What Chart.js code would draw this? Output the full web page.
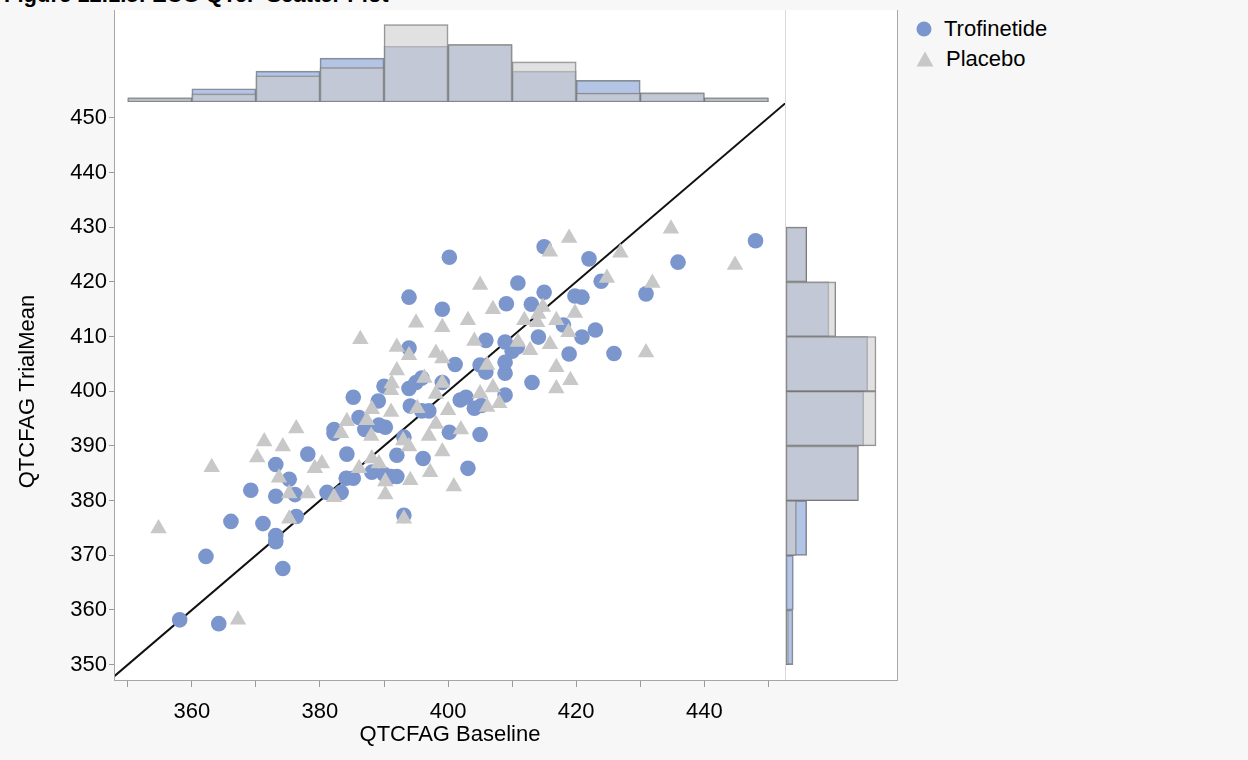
<!DOCTYPE html>
<html>
<head>
<meta charset="utf-8">
<script src="https://cdn.jsdelivr.net/npm/chart.js@4.4.1/dist/chart.umd.min.js"></script>
<style>
  html, body { margin: 0; padding: 0; background: #f7f7f7; }
  body { width: 1248px; height: 760px; position: relative; overflow: hidden;
         font-family: "Liberation Sans", Arial, sans-serif; color: #000; }
  .abs { position: absolute; }
  #frame { left: 115px; top: 10px; width: 782px; height: 670px; background: #fff; }
  #title { left: 4px; top: -18px; font-size: 22px; font-weight: bold; white-space: nowrap; line-height: 26px; }
  .edge { background: #a6a6a6; }
  .sep { background: #d9d9d9; }
  #legend { left: 916px; top: 14px; font-size: 22px; line-height: 30px; }
  #legend div { display: flex; align-items: center; height: 30px; }
  #legend svg { margin-right: 12px; }
</style>
</head>
<body>
<div id="title" class="abs">Figure 12.1.5: ECG QTcF Scatter Plot</div>
<div id="frame" class="abs"></div>
<canvas id="scatter" class="abs" width="800" height="760" style="left:0;top:0"></canvas>
<canvas id="histTop" class="abs" width="670" height="92" style="left:115px;top:10px"></canvas>
<canvas id="histRight" class="abs" width="111" height="577" style="left:786px;top:103px"></canvas>
<div class="abs edge" style="left:114px;top:10px;width:1px;height:671px"></div>
<div class="abs edge" style="left:114px;top:680px;width:784px;height:1px"></div>
<div class="abs edge" style="left:897px;top:10px;width:1px;height:671px"></div>
<div class="abs sep" style="left:785px;top:10px;width:1px;height:670px"></div>
<div id="legend" class="abs">
  <div><svg width="16" height="16"><circle cx="8" cy="8" r="7.5" fill="rgb(123,149,205)"/></svg>Trofinetide</div>
  <div><svg width="18" height="16"><polygon points="9,0.5 17.5,15.5 0.5,15.5" fill="rgb(200,200,200)"/></svg>Placebo</div>
</div>
<script>
// QTcF per subject: baseline (x) against mean on-treatment value (y)
const trofinetideBaseline = [358.1,362.2,364.2,366.1,369.2,371.1,373.1,373.1,373.1,373.1,374.2,375.2,376.1,376.3,378.1,381.1,382.2,382.2,383.3,384.1,384.2,385.2,385.2,386.1,387.0,388.1,389.1,389.2,390.0,390.2,390.0,391.1,392.0,392.0,393.1,393.1,393.9,393.9,393.9,394.1,395.0,395.9,395.9,396.1,397.0,399.1,399.1,400.2,400.2,401.1,401.9,402.8,403.1,404.1,405.0,405.0,405.2,405.9,405.9,408.9,408.9,408.9,410.0,410.8,410.9,413.0,413.1,414.1,415.0,415.0,418.0,418.9,419.8,420.9,420.9,422.0,423.0,423.9,425.9,430.9,435.9,448.0,409.1,408.9];
const trofinetideTrialMean = [358.2,369.8,357.5,376.2,381.9,375.8,386.6,380.8,373.6,372.5,367.6,383.9,381.1,377.1,388.5,381.5,393.0,392.3,381.5,384.1,388.5,398.9,384.1,395.2,393.0,385.2,398.2,393.8,400.9,393.4,384.8,384.4,384.4,388.3,377.3,391.6,417.2,407.9,400.5,397.3,401.6,396.4,402.4,387.7,396.4,415.0,401.6,424.5,392.5,404.9,398.4,398.9,385.9,396.9,392.1,404.8,397.4,409.3,403.5,409.0,403.3,399.3,407.3,408.1,419.8,415.9,401.6,409.9,426.4,418.1,412.1,406.8,417.4,417.2,409.9,424.2,411.2,420.1,406.9,417.8,423.6,427.5,416.0,405.3];
const placeboBaseline = [354.8,363.1,367.2,370.2,371.3,374.2,373.6,375.2,375.2,376.3,378.1,379.2,380.3,382.2,383.3,384.2,386.3,386.1,388.1,388.0,389.2,390.2,390.2,391.1,391.1,392.0,392.0,393.1,393.9,393.9,394.1,395.0,395.2,396.3,397.0,398.1,398.1,399.1,399.1,399.1,400.0,400.9,402.0,403.1,404.1,405.0,405.0,406.1,406.1,407.0,407.0,408.0,411.9,412.8,413.9,414.8,415.9,415.9,416.9,416.9,416.9,418.9,419.1,419.8,424.8,426.9,430.9,431.9,434.8,444.8,398.1,387.3,393.0,391.2,399.1,414.1,418.8,410.9,388.1,397.2];
const placeboTrialMean = [374.9,386.1,358.2,387.9,390.8,389.9,384.2,381.3,376.7,393.2,381.3,385.9,386.8,380.6,392.3,394.5,409.5,385.9,396.7,391.8,386.8,381.1,383.5,400.2,396.2,408.1,403.8,376.7,406.6,389.9,383.7,412.5,396.9,402.4,391.8,399.5,394.0,411.7,406.0,389.0,396.5,382.6,393.0,413.0,409.2,419.4,399.6,397.1,404.8,415.0,400.7,397.8,413.0,407.5,412.6,415.4,425.5,408.6,404.4,400.5,413.0,428.0,402.0,414.3,420.7,425.3,407.1,419.8,429.7,423.1,407.0,394.7,391.0,401.4,401.5,414.1,410.8,409.0,387.7,385.2];

// Reference line of no change (y = x)
const identityLine = [340, 460];

// Marginal distributions, percent of each arm per 10 ms bin
const baselineBinCenters = [355, 365, 375, 385, 395, 405, 415, 425, 435, 445];
const baselinePctTrofinetide = [1.5, 4.9, 11.4, 16.2, 20.6, 21.2, 11.4, 8.0, 3.4, 1.5];
const baselinePctPlacebo = [1.5, 3.0, 9.7, 12.7, 28.6, 21.2, 14.8, 3.3, 3.4, 1.5];
const trialBinCenters = [355, 365, 375, 385, 395, 405, 415, 425];
const trialPctTrofinetide = [2.1, 2.2, 6.2, 21.7, 23.3, 24.5, 12.9, 6.2];
const trialPctPlacebo = [0.7, 0.0, 3.1, 21.7, 27.0, 27.0, 14.9, 6.2];

// Axis ranges and ticks
const xRange = [348, 452.6];
const yRange = [347.2, 452.7];
const tickStep = 10;
const xLabelStep = 20;

const BLUE = 'rgb(123,149,205)';
const GREY = 'rgb(200,200,200)';
const BLUE_BAR = 'rgba(122,150,206,0.56)';
const GREY_BAR = 'rgba(204,204,204,0.59)';
const BAR_EDGE = 'rgba(120,120,120,0.85)';
const FONT = { family: '"Liberation Sans", Arial, sans-serif', size: 22 };

const zip = (xs, ys) => xs.map((x, i) => ({ x: x, y: ys[i] }));

new Chart(document.getElementById('scatter'), {
  type: 'scatter',
  data: {
    datasets: [
      {
        label: 'Placebo',
        data: zip(placeboBaseline, placeboTrialMean),
        pointStyle: 'triangle',
        pointRadius: 9.5,
        backgroundColor: GREY,
        borderColor: GREY,
        borderWidth: 0,
        order: 0
      },
      {
        label: 'Trofinetide',
        data: zip(trofinetideBaseline, trofinetideTrialMean),
        pointStyle: 'circle',
        pointRadius: 7.8,
        backgroundColor: BLUE,
        borderColor: BLUE,
        borderWidth: 0,
        order: 1
      },
      {
        type: 'line',
        label: 'Identity',
        data: zip(identityLine, identityLine),
        borderColor: '#111',
        borderWidth: 2,
        pointRadius: 0,
        fill: false,
        order: 2
      }
    ]
  },
  options: {
    responsive: false,
    animation: false,
    events: [],
    layout: { padding: { left: 0, top: 103, right: 15, bottom: 0 } },
    plugins: { legend: { display: false }, tooltip: { enabled: false } },
    scales: {
      x: {
        type: 'linear',
        min: xRange[0],
        max: xRange[1],
        afterFit: (s) => { s.height = 80; },
        border: { display: false },
        grid: { drawOnChartArea: false, tickLength: 7, tickColor: '#9a9a9a' },
        ticks: {
          stepSize: tickStep,
          includeBounds: false,
          autoSkip: false,
          maxRotation: 0,
          padding: 12,
          color: '#000',
          font: FONT,
          callback: (v) => (v % xLabelStep === 0 ? String(v) : '')
        },
        title: { display: true, text: 'QTCFAG Baseline', color: '#000', font: FONT, padding: { top: 0, bottom: 12 } }
      },
      y: {
        type: 'linear',
        min: yRange[0],
        max: yRange[1],
        afterFit: (s) => { s.width = 115; },
        border: { display: false },
        grid: { drawOnChartArea: false, tickLength: 6, tickColor: '#9a9a9a' },
        ticks: {
          stepSize: tickStep,
          includeBounds: false,
          padding: 2,
          color: '#000',
          font: FONT
        },
        title: { display: true, text: 'QTCFAG TrialMean', color: '#000', font: FONT, padding: { top: 15, bottom: 0 } }
      }
    }
  }
});

const barStyle = {
  borderWidth: 1,
  borderColor: BAR_EDGE,
  borderSkipped: false,
  barPercentage: 1,
  categoryPercentage: 1,
  grouped: false
};

new Chart(document.getElementById('histTop'), {
  type: 'bar',
  data: {
    datasets: [
      Object.assign({ label: 'Placebo', data: zip(baselineBinCenters, baselinePctPlacebo), backgroundColor: GREY_BAR, order: 0 }, barStyle),
      Object.assign({ label: 'Trofinetide', data: zip(baselineBinCenters, baselinePctTrofinetide), backgroundColor: BLUE_BAR, order: 1 }, barStyle)
    ]
  },
  options: {
    responsive: false,
    animation: false,
    events: [],
    layout: { padding: 0 },
    plugins: { legend: { display: false }, tooltip: { enabled: false } },
    scales: {
      x: { type: 'linear', min: xRange[0], max: xRange[1], offset: false, display: false },
      y: { type: 'linear', min: 0, max: 34, display: false }
    }
  }
});

new Chart(document.getElementById('histRight'), {
  type: 'bar',
  data: {
    datasets: [
      Object.assign({ label: 'Placebo', data: zip(trialPctPlacebo, trialBinCenters), backgroundColor: GREY_BAR, order: 0 }, barStyle),
      Object.assign({ label: 'Trofinetide', data: zip(trialPctTrofinetide, trialBinCenters), backgroundColor: BLUE_BAR, order: 1 }, barStyle)
    ]
  },
  options: {
    indexAxis: 'y',
    responsive: false,
    animation: false,
    events: [],
    layout: { padding: 0 },
    plugins: { legend: { display: false }, tooltip: { enabled: false } },
    scales: {
      y: { type: 'linear', min: yRange[0], max: yRange[1], offset: false, display: false },
      x: { type: 'linear', min: 0, max: 33.3, display: false }
    }
  }
});
</script>
</body>
</html>
